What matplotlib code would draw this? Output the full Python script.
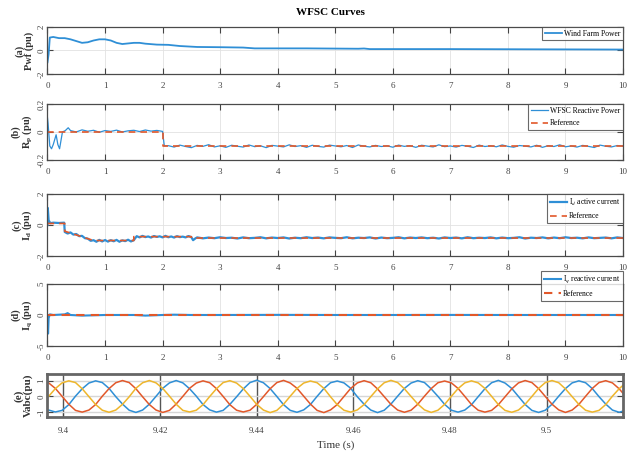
#!/usr/bin/env python3
"""WFSC curves: wind farm power, reactive power, Id/Iq currents and Vabc."""
import matplotlib
matplotlib.use("Agg")
import matplotlib.pyplot as plt
import numpy as np

plt.rcParams["font.family"] = ["Liberation Serif", "DejaVu Serif"]
plt.rcParams["mathtext.fontset"] = "stix"

BLUE = "#2F8FD6"
RED = "#E2582A"
YELLOW = "#EEB62C"

# (a) wind farm power (pu)
PWF_T = [0.0, 0.02, 0.04, 0.1, 0.2, 0.3, 0.4, 0.5, 0.6, 0.7, 0.8, 0.9, 1.0, 1.1,
         1.2, 1.3, 1.4, 1.5, 1.6, 1.7, 1.9, 2.1, 2.3, 2.6, 3.0, 3.4, 3.6, 4.5,
         5.4, 5.5, 5.6, 7.0, 8.5, 10.0]
PWF_V = [-1.0, -0.3, 1.1, 1.15, 1.05, 1.05, 0.95, 0.8, 0.65, 0.7, 0.85, 0.95, 0.95,
         0.85, 0.65, 0.55, 0.6, 0.65, 0.65, 0.58, 0.5, 0.48, 0.38, 0.3, 0.28, 0.25,
         0.18, 0.18, 0.15, 0.17, 0.12, 0.12, 0.1, 0.08]

# (b) WFSC reactive power (pu): transient, 0.4-2.0 s, step, 2.1-10 s
QR_T0 = [0.0, 0.01, 0.04, 0.07, 0.10, 0.15, 0.18, 0.21, 0.26, 0.31, 0.36]
QR_V0 = [0.1, 0.06, -0.1, -0.12, -0.09, -0.02, -0.09, -0.12, 0.0, 0.01, 0.03]
QR_V1 = [0.01, 0.0, 0.015, 0.005, 0.012, -0.002, 0.01, 0.004, 0.013, 0.0, 0.008,
         0.012, 0.003, 0.014, 0.006, 0.011, 0.004]
QR_STEP_T = [2.0, 2.03]
QR_STEP_V = [0.0, -0.1]
QR_V2 = [-0.098, -0.108, -0.094, -0.104, -0.112, -0.096, -0.103, -0.091, -0.107, -0.099,
         -0.11, -0.095, -0.102, -0.108, -0.093, -0.105, -0.099, -0.112, -0.096, -0.101,
         -0.107, -0.092, -0.104, -0.098, -0.11, -0.095, -0.103, -0.108, -0.094, -0.1,
         -0.106, -0.097, -0.111, -0.093, -0.102, -0.107, -0.096, -0.104, -0.099, -0.109,
         -0.094, -0.103, -0.098, -0.11, -0.095, -0.101, -0.107, -0.092, -0.105, -0.1,
         -0.108, -0.096, -0.102, -0.111, -0.094, -0.104, -0.099, -0.106, -0.093, -0.103,
         -0.109, -0.097, -0.101, -0.107, -0.095, -0.11, -0.098, -0.104, -0.092, -0.106,
         -0.1, -0.108, -0.096, -0.103, -0.111, -0.094, -0.102, -0.107, -0.097, -0.101]
QR_REF_T = [0.0, 2.0, 2.0, 10.0]
QR_REF_V = [0.0, 0.0, -0.1, -0.1]

# (c) Id active current (pu)
ID_T0 = [0.0, 0.005, 0.02, 0.05, 0.1, 0.2, 0.29]
ID_V0 = [0.0, 1.1, 0.3, 0.12, 0.15, 0.13, 0.15]
ID_V1 = [-0.45, -0.55, -0.48, -0.62, -0.58, -0.72, -0.70, -0.85, -0.88, -1.02,
         -0.98, -1.08, -0.96, -1.06, -0.97, -1.07, -0.98, -1.05, -0.96, -1.08,
         -0.99, -1.04, -0.95, -1.06, -0.98]                      # 0.30 - 1.50 s
ID_V2 = [-0.72, -0.80, -0.70, -0.78, -0.74, -0.81, -0.71, -0.77, -0.73, -0.80,
         -0.70, -0.79, -0.74, -0.81, -0.72, -0.78, -0.75, -0.80, -0.71, -0.79]  # 1.55 - 2.5 s
ID_DIP_T = [2.53, 2.57]
ID_DIP_V = [-0.98, -0.86]
ID_V3 = [-0.80, -0.86, -0.81, -0.85, -0.79, -0.84, -0.82, -0.87, -0.80, -0.85,
         -0.83, -0.79, -0.86, -0.81, -0.84, -0.80, -0.87, -0.82, -0.85, -0.79,
         -0.84, -0.81, -0.86, -0.80, -0.83, -0.85, -0.79, -0.86, -0.82, -0.84,
         -0.80, -0.87, -0.81, -0.85, -0.83, -0.79, -0.86, -0.81, -0.84, -0.80,
         -0.85, -0.82, -0.87, -0.80, -0.84, -0.81, -0.86, -0.79, -0.85, -0.82,
         -0.84, -0.80, -0.86, -0.81, -0.85, -0.83, -0.79, -0.87, -0.82, -0.84,
         -0.80, -0.86, -0.81, -0.85, -0.79, -0.84, -0.82, -0.86, -0.80, -0.85,
         -0.83, -0.81, -0.86, -0.80, -0.84]                      # 2.6 - 10 s
ID_REF_T = [0.0, 0.3, 0.3, 0.8, 1.5, 1.5, 2.5, 2.5, 10.0]
ID_REF_V = [0.1, 0.1, -0.4, -1.0, -1.0, -0.75, -0.75, -0.84, -0.84]

# (d) Iq reactive current (pu)
IQ_T = [0.0, 0.01, 0.02, 0.04, 0.1, 0.2, 0.3, 0.35, 0.4, 0.6, 0.8, 1.0, 1.5, 1.7,
        2.0, 2.2, 2.5, 3.0, 4.0, 5.0, 6.0, 7.0, 8.0, 9.0, 10.0]
IQ_V = [0.0, -3.0, -0.5, 0.1, 0.0, 0.05, 0.1, 0.3, 0.0, -0.1, -0.05, 0.0, 0.0, -0.1,
        0.0, 0.05, 0.0, 0.0, 0.02, 0.0, 0.0, 0.01, 0.0, 0.0, 0.0]
IQ_REF_T = [0.0, 10.0]
IQ_REF_V = [0.0, 0.0]

# (e) three-phase voltages (pu), sampled every 1/720 s from 9.39694 s
VABC_T0 = 9.39694
VABC_DT = 1.0 / 720.0
VA = [-0.86, -0.98, -0.88, -0.52, 0.02, 0.49, 0.85, 0.99, 0.88, 0.51, -0.01, -0.48,
      -0.87, -1.01, -0.86, -0.49, 0.01, 0.52, 0.86, 1.01, 0.86, 0.49, 0.02, -0.51,
      -0.85, -0.99, -0.88, -0.50, -0.02, 0.48, 0.88, 1.03, 0.87, 0.50, 0.00, -0.52,
      -0.88, -1.00, -0.85, -0.51, 0.01, 0.50, 0.87, 0.98, 0.86, 0.52, -0.02, -0.49,
      -0.86, -1.02, -0.87, -0.48, 0.02, 0.51, 0.85, 1.00, 0.88, 0.48, 0.01, -0.50,
      -0.87, -0.99, -0.86, -0.52, -0.01, 0.49, 0.87, 1.02, 0.85, 0.51, 0.00, -0.51,
      -0.88, -1.01, -0.87, -0.49, 0.02, 0.50, 0.86, 0.99, 0.87, 0.50, -0.01, -0.48,
      -0.86, -1.00, -0.87]
VB = [0.86, 0.51, 0.01, -0.49, -0.88, -0.99, -0.86, -0.51, 0.02, 0.50, 0.87, 1.01,
      0.88, 0.49, -0.02, -0.51, -0.86, -1.01, -0.88, -0.48, 0.01, 0.52, 0.85, 0.99,
      0.87, 0.50, 0.00, -0.52, -0.87, -0.98, -0.87, -0.50, -0.01, 0.49, 0.88, 1.02,
      0.85, 0.52, 0.02, -0.48, -0.88, -1.02, -0.85, -0.51, 0.00, 0.51, 0.86, 1.00,
      0.87, 0.48, -0.01, -0.50, -0.86, -1.00, -0.87, -0.49, 0.02, 0.50, 0.87, 0.98,
      0.86, 0.51, 0.01, -0.51, -0.87, -0.99, -0.88, -0.52, -0.02, 0.48, 0.86, 1.01,
      0.88, 0.50, 0.00, -0.49, -0.85, -1.01, -0.86, -0.50, 0.01, 0.51, 0.88, 1.00,
      0.86, 0.49, -0.01]
VC = [0.01, 0.50, 0.86, 0.99, 0.88, 0.49, -0.01, -0.51, -0.87, -1.00, -0.86, -0.50,
      -0.02, 0.52, 0.87, 1.01, 0.86, 0.51, 0.02, -0.49, -0.88, -0.98, -0.87, -0.52,
      0.00, 0.49, 0.88, 1.00, 0.85, 0.50, 0.01, -0.50, -0.86, -1.02, -0.88, -0.49,
      0.02, 0.51, 0.85, 0.98, 0.87, 0.52, -0.02, -0.52, -0.87, -0.99, -0.85, -0.51,
      -0.01, 0.48, 0.87, 1.02, 0.88, 0.49, 0.00, -0.48, -0.85, -1.01, -0.87, -0.50,
      0.01, 0.50, 0.86, 0.99, 0.86, 0.51, 0.01, -0.51, -0.88, -1.00, -0.86, -0.49,
      0.00, 0.51, 0.88, 1.01, 0.87, 0.48, -0.01, -0.50, -0.87, -0.99, -0.88, -0.51,
      0.02, 0.49, 0.86]

T_TICKS = [0, 1, 2, 3, 4, 5, 6, 7, 8, 9, 10]
E_TICKS = [9.40, 9.42, 9.44, 9.46, 9.48, 9.50]
E_TICK_LABELS = ["9.4", "9.42", "9.44", "9.46", "9.48", "9.5"]


def style_axes(ax, yticks, ylabels, ylabel):
    ax.set_xlim(0, 10)
    ax.set_ylim(yticks[-1], yticks[0])
    ax.set_xticks(T_TICKS)
    ax.set_xticklabels([str(t) for t in T_TICKS])
    ax.set_yticks(yticks)
    ax.set_yticklabels(ylabels, rotation=90, va="center")
    ax.grid(True, color="#e2e2e2", lw=0.6)
    ax.tick_params(direction="in", length=4, width=0.8, top=True, right=True,
                   labelsize=6.5, colors="#444444")
    ax.tick_params(axis="x", pad=6)
    ax.tick_params(axis="y", pad=1.5)
    for spine in ax.spines.values():
        spine.set_edgecolor("#4a4a4a")
        spine.set_linewidth(0.9)
    ax.set_ylabel(ylabel, fontsize=7.5, fontweight="bold", linespacing=0.9,
                  color="#333333")
    ax.yaxis.set_label_coords(-0.024, 0.5)


def legend(ax, **kw):
    leg = ax.legend(loc="upper right", fontsize=5.5, frameon=True, fancybox=False,
                    handlelength=2.2, borderpad=0.35, labelspacing=0.6,
                    handletextpad=0.3, borderaxespad=0.0, **kw)
    leg.get_frame().set_edgecolor("#444444")
    leg.get_frame().set_linewidth(0.8)
    return leg


fig = plt.figure(figsize=(6.29, 4.57), dpi=100)
left, width = 0.0755, 0.915

# (a)
ax_a = fig.add_axes([left, 0.838, width, 0.103])
ax_a.plot(PWF_T, PWF_V, color=BLUE, lw=1.3, label="Wind Farm Power")
style_axes(ax_a, [2, 0, -2], ["2", "0", "-2"], "(a)\nPwf (pu)")
legend(ax_a)

# (b)
ax_b = fig.add_axes([left, 0.650, width, 0.1225])
qr_t = (QR_T0 + list(np.linspace(0.4, 2.0, len(QR_V1))) + QR_STEP_T
        + list(np.linspace(2.1, 10.0, len(QR_V2))))
qr_v = QR_V0 + QR_V1 + QR_STEP_V + QR_V2
ax_b.plot(qr_t, qr_v, color=BLUE, lw=0.9, label="WFSC Reactive Power")
ax_b.plot(QR_REF_T, QR_REF_V, color=RED, lw=1.2, ls=(0, (4, 3)), label="Reference")
style_axes(ax_b, [0.2, 0, -0.2], ["0.2", "0", "-0.2"], "(b)\nR$_\\mathbf{p}$ (pu)")
legend(ax_b)

# (c)
ax_c = fig.add_axes([left, 0.4398, width, 0.1357])
id_t = (ID_T0 + list(np.linspace(0.3, 1.5, len(ID_V1))) + list(np.linspace(1.55, 2.5, len(ID_V2)))
        + ID_DIP_T + list(np.linspace(2.6, 10.0, len(ID_V3))))
id_v = ID_V0 + ID_V1 + ID_V2 + ID_DIP_V + ID_V3
ax_c.plot(id_t, id_v, color=BLUE, lw=1.6, label="I$_d$ active current")
ax_c.plot(ID_REF_T, ID_REF_V, color=RED, lw=1.2, ls=(0, (4, 3)), label="Reference")
style_axes(ax_c, [2, 0, -2], ["2", "0", "-2"], "(c)\nI$_\\mathbf{d}$ (pu)")
legend(ax_c)

# (d)
ax_d = fig.add_axes([left, 0.2429, width, 0.1357])
ax_d.plot(IQ_T, IQ_V, color=BLUE, lw=1.5, label="I$_q$ reactive current")
ax_d.plot(IQ_REF_T, IQ_REF_V, color=RED, lw=1.5, ls=(0, (4, 3)), label="Reference")
style_axes(ax_d, [5, 0, -5], ["5", "0", "-5"], "(d)\nI$_\\mathbf{q}$ (pu)")
legend(ax_d, bbox_to_anchor=(1.0, 1.21))

# (e)
ax_e = fig.add_axes([left, 0.0875, width, 0.094])
t_e = VABC_T0 + VABC_DT * np.arange(len(VA))
ax_e.plot(t_e, VA, color="#2F8FD6", lw=1.1)
ax_e.plot(t_e, VB, color=RED, lw=1.1)
ax_e.plot(t_e, VC, color=YELLOW, lw=1.1)
ax_e.set_xlim(9.3967, 9.5158)
ax_e.set_ylim(-1.3, 1.42)
ax_e.set_xticks(E_TICKS)
ax_e.set_xticklabels(E_TICK_LABELS)
ax_e.set_yticks([1, 0, -1])
ax_e.set_yticklabels(["1", "0", "-1"], rotation=90, va="center")
ax_e.grid(True, axis="x", color="#555555", lw=1.0)
ax_e.grid(True, axis="y", color="#d6d6d6", lw=1.0)
ax_e.tick_params(direction="in", length=4, width=0.8, right=True,
                 labelsize=6.5, colors="#444444")
ax_e.tick_params(axis="x", pad=7)
ax_e.tick_params(axis="y", pad=1.5)
for spine in ax_e.spines.values():
    spine.set_edgecolor("#666666")
    spine.set_linewidth(2.0)
ax_e.set_ylabel("(e)\nVabc(pu)", fontsize=8, fontweight="bold", linespacing=0.9,
                color="#333333")
ax_e.yaxis.set_label_coords(-0.026, 0.5)
ax_e.set_xlabel("Time (s)", fontsize=8, color="#333333", labelpad=4)

fig.text(0.525, 0.973, "WFSC Curves", ha="center", va="center",
         fontsize=8, fontweight="bold")

fig.savefig("out.png", dpi=100, facecolor="white")
